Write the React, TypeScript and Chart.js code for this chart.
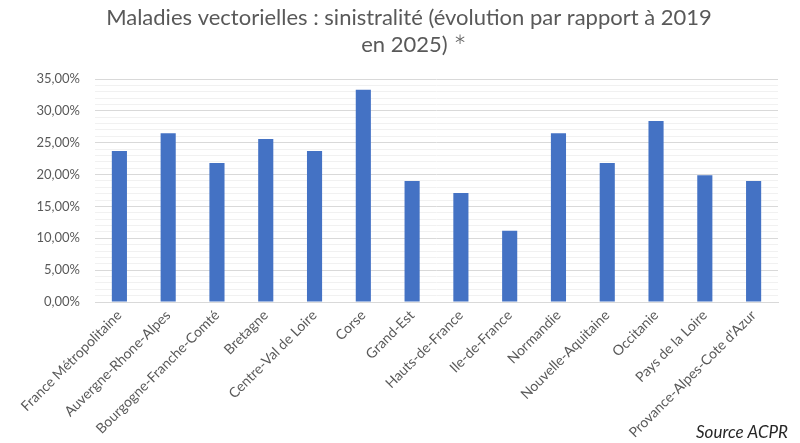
import React, { useEffect, useRef } from "react";
import { Chart, registerables } from "chart.js";

Chart.register(...registerables);

const categories = [
  "France Métropolitaine",
  "Auvergne-Rhone-Alpes",
  "Bourgogne-Franche-Comté",
  "Bretagne",
  "Centre-Val de Loire",
  "Corse",
  "Grand-Est",
  "Hauts-de-France",
  "Ile-de-France",
  "Normandie",
  "Nouvelle-Aquitaine",
  "Occitanie",
  "Pays de la Loire",
  "Provance-Alpes-Cote d'Azur",
];

const values = [23.7, 26.5, 21.8, 25.6, 23.7, 33.3, 19.0, 17.1, 11.2, 26.5, 21.8, 28.4, 19.9, 19.0];

const titleLine1 = "Maladies vectorielles : sinistralité (évolution par rapport à 2019";
const titleLine2 = "en 2025)";
const titleStar = "*";
const sourceText = "Source ACPR";
const yMax = 35;
const yMajorStep = 5;
const yMinorStep = 1;

const FONT = "Lato, 'Open Sans', sans-serif";
const fmt = (v: number) => v.toFixed(2).replace(".", ",") + "%";

const textPlugin = {
  id: "textPlugin",
  afterDraw(chart: any) {
    const ctx = chart.ctx;
    ctx.save();
    ctx.fillStyle = "#595959";
    ctx.font = `22px ${FONT}`;
    ctx.textAlign = "center";
    ctx.textBaseline = "middle";
    ctx.fillText(titleLine1, 409, 18);
    const w2 = ctx.measureText(titleLine2 + " ").width;
    ctx.font = `300 32px ${FONT}`;
    const ws = ctx.measureText(titleStar).width;
    const startX = 414 - (w2 + ws) / 2;
    ctx.textAlign = "left";
    ctx.font = `22px ${FONT}`;
    ctx.fillText(titleLine2 + " ", startX, 45);
    ctx.font = `300 32px ${FONT}`;
    ctx.fillText(titleStar, startX + w2, 48);
    ctx.fillStyle = "#262626";
    ctx.font = `italic 17px ${FONT}`;
    ctx.textAlign = "right";
    ctx.textBaseline = "alphabetic";
    ctx.fillText(sourceText, 788, 438);
    ctx.restore();
  },
};

export default function App() {
  const ref = useRef<HTMLCanvasElement | null>(null);
  useEffect(() => {
    if (!ref.current) return;
    const chart = new Chart(ref.current, {
      type: "bar",
      data: {
        labels: categories,
        datasets: [
          {
            data: values,
            backgroundColor: "#4472C4",
            borderWidth: 0,
            barPercentage: 0.31,
            categoryPercentage: 1,
          },
        ],
      },
      options: {
        animation: false,
        responsive: false,
        devicePixelRatio: 1,
        layout: { padding: { top: 79, left: 0, right: 22, bottom: 0 } },
        plugins: {
          legend: { display: false },
          title: { display: false },
          tooltip: { enabled: false },
        },
        scales: {
          x: {
            grid: { display: false, drawTicks: false },
            border: { display: true, color: "#d9d9d9", width: 1 },
            ticks: {
              color: "#595959",
              font: { family: FONT, size: 14 },
              minRotation: 45,
              maxRotation: 45,
              autoSkip: false,
              padding: 5,
            },
            afterFit: (scale: any) => {
              scale.height = 141;
            },
          },
          y: {
            min: 0,
            max: yMax,
            border: { display: false },
            grid: {
              drawTicks: false,
              color: (c: any) =>
                Math.round(c.tick.value) % yMajorStep === 0 ? "#d9d9d9" : "#f1f1f1",
              lineWidth: 1,
            },
            ticks: {
              stepSize: yMinorStep,
              autoSkip: false,
              color: "#595959",
              font: { family: FONT, size: 13 },
              padding: 15,
              callback: (v: any) => (Math.round(v) % yMajorStep === 0 ? fmt(Number(v)) : ""),
            },
            afterFit: (scale: any) => {
              scale.width = 95;
            },
          },
        },
      },
      plugins: [textPlugin],
    });
    return () => chart.destroy();
  }, []);
  return (
    <div style={{ position: "absolute", left: 0, top: 0, width: 800, height: 443, background: "#fff" }}>
      <canvas ref={ref} width={800} height={443} />
    </div>
  );
}
